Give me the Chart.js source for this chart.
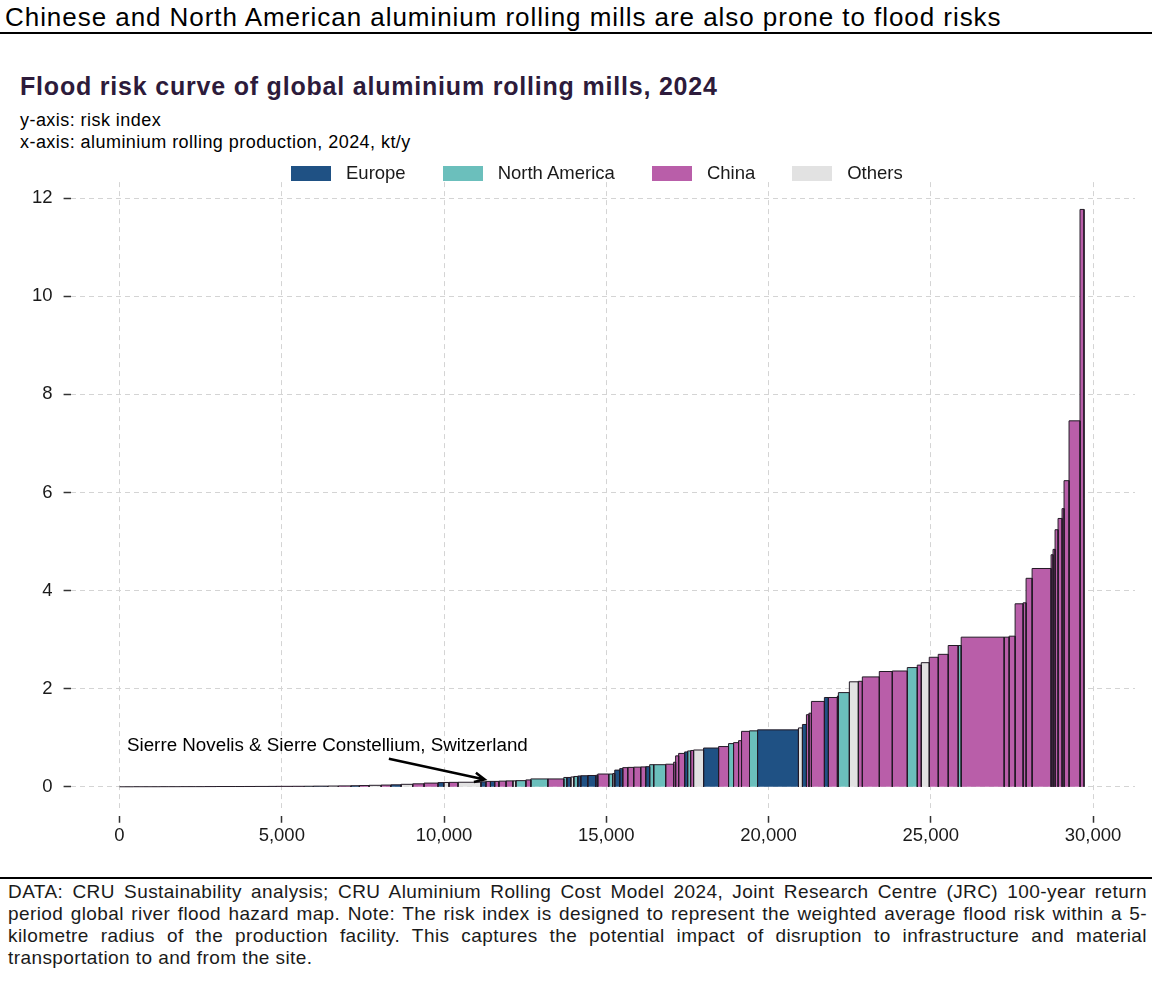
<!DOCTYPE html>
<html>
<head>
<meta charset="utf-8">
<script src="https://cdn.jsdelivr.net/npm/chart.js@4.4.1/dist/chart.umd.min.js"></script>
<style>
  body { margin: 0; width: 1152px; height: 981px; background: #fff; font-family: 'Liberation Sans', Arial, sans-serif; color: #000; position: relative; overflow: hidden; }
  .headline { position: absolute; top: 2px; left: 5px; font-size: 26px; letter-spacing: 0.95px; white-space: nowrap; }
  .rule { position: absolute; left: 0; width: 1152px; height: 2px; background: #000; }
  .title { position: absolute; top: 72px; left: 20px; font-size: 25px; letter-spacing: 0.8px; font-weight: bold; color: #2d1b3b; white-space: nowrap; }
  .sub { position: absolute; left: 20px; font-size: 18px; letter-spacing: 0.45px; white-space: nowrap; }
  #legend { position: absolute; top: 162px; left: 291px; display: flex; align-items: center; font-size: 18.5px; color: #1a1a1a; white-space: nowrap; }
  #legend .item { display: flex; align-items: center; margin-right: 37px; }
  #legend .box { width: 40px; height: 15px; margin-right: 15px; }
  #wrap { position: absolute; top: 160px; left: 0; width: 1152px; height: 710px; }
  .foot { position: absolute; top: 881px; left: 8px; width: 1139px; font-size: 19px; letter-spacing: 0.42px; line-height: 22px; text-align: justify; color: #1a1a1a; }
</style>
</head>
<body>
<div class="headline">Chinese and North American aluminium rolling mills are also prone to flood risks</div>
<div class="rule" style="top:32px"></div>
<div class="title">Flood risk curve of global aluminium rolling mills, 2024</div>
<div class="sub" style="top:110px">y-axis: risk index</div>
<div class="sub" style="top:132px">x-axis: aluminium rolling production, 2024, kt/y</div>
<div id="wrap"><canvas id="floodChart"></canvas></div>
<div id="legend"></div>
<div class="rule" style="top:877px"></div>
<div class="foot">DATA: CRU Sustainability analysis; CRU Aluminium Rolling Cost Model 2024, Joint Research Centre (JRC) 100-year return period global river flood hazard map. Note: The risk index is designed to represent the weighted average flood risk within a 5-kilometre radius of the production facility. This captures the potential impact of disruption to infrastructure and material transportation to and from the site.</div>
<script>
// mills sorted by risk: production (kt/y), risk index, region
const regions = ['Europe', 'North America', 'China', 'Others'];
const regionCodes = ['E', 'N', 'C', 'O'];
const regionColors = ['#1f5184', '#6bbfbc', '#b95ea9', '#e2e2e2'];

const millWidths = [
    420, 310, 520, 250, 380, 460, 290, 350, 600, 270, 330, 410, 240, 500, 360, 280, 450, 320, 390, 260, 300, 370,
    300, 315, 360, 348, 430, 180, 159, 277, 708, 153, 140, 130, 130, 220, 211, 92, 308, 154, 523, 492,
    93, 123, 92, 123, 92, 216, 246, 61, 339, 123, 62, 153, 93, 154, 184, 216, 153, 123, 124, 369,
    246, 61, 93, 184, 93, 92, 92, 308, 462, 307, 154, 154, 92, 246, 247, 1261,
    123, 123, 77, 77, 400, 123, 277, 31, 338, 277, 123, 523, 400, 462, 308, 123, 246, 277, 307, 308, 92,
    1324, 153, 185, 246, 92, 185, 585, 61, 62, 92, 123, 62, 154, 338, 123
];
const millRisks = [
    0, 0.001, 0.001, 0.002, 0.002, 0.003, 0.003, 0.004, 0.005, 0.005, 0.006, 0.007, 0.008, 0.009, 0.010, 0.011, 0.013, 0.015, 0.018, 0.021, 0.025, 0.030,
    0.035, 0.04, 0.05, 0.06, 0.075, 0.085, 0.088, 0.09, 0.092, 0.10, 0.11, 0.11, 0.11, 0.115, 0.12, 0.12, 0.125, 0.14, 0.16, 0.16,
    0.19, 0.19, 0.20, 0.21, 0.22, 0.225, 0.23, 0.235, 0.26, 0.26, 0.27, 0.34, 0.37, 0.39, 0.395, 0.40, 0.405, 0.41, 0.45, 0.45,
    0.46, 0.50, 0.63, 0.68, 0.71, 0.73, 0.74, 0.75, 0.79, 0.82, 0.88, 0.90, 0.94, 1.13, 1.14, 1.16,
    1.20, 1.27, 1.47, 1.50, 1.74, 1.82, 1.82, 1.85, 1.92, 2.14, 2.15, 2.24, 2.35, 2.36, 2.43, 2.48, 2.53, 2.64, 2.70, 2.88, 2.88,
    3.05, 3.05, 3.07, 3.73, 3.75, 4.25, 4.45, 4.73, 4.84, 5.24, 5.47, 5.67, 6.24, 7.46, 11.77
];
const millRegions = [
    'O', 'E', 'C', 'N', 'E', 'C', 'O', 'C', 'E', 'N', 'C', 'O', 'E', 'C', 'C', 'N', 'E', 'O', 'C', 'E', 'C', 'O',
    'C', 'E', 'O', 'C', 'C', 'E', 'O', 'C', 'O', 'E', 'C', 'E', 'C', 'C', 'C', 'O', 'N', 'C', 'N', 'C',
    'N', 'E', 'O', 'N', 'E', 'E', 'E', 'E', 'C', 'N', 'O', 'E', 'E', 'C', 'C', 'C', 'C', 'E', 'N', 'N',
    'C', 'C', 'C', 'C', 'E', 'N', 'C', 'O', 'E', 'C', 'N', 'C', 'C', 'C', 'N', 'E',
    'O', 'E', 'C', 'C', 'C', 'E', 'C', 'E', 'N', 'O', 'C', 'C', 'C', 'C', 'N', 'C', 'O', 'C', 'C', 'C', 'N',
    'C', 'C', 'C', 'C', 'C', 'C', 'C', 'C', 'C', 'C', 'C', 'C', 'C', 'C', 'C'
];

const xTicks = [0, 5000, 10000, 15000, 20000, 25000, 30000];
const yTicks = [0, 2, 4, 6, 8, 10, 12];

const note = {
    text: 'Sierre Novelis & Sierre Constellium, Switzerland',
    textX: 230, textY: 0.84,
    fromX: 8300, fromY: 0.57,
    toX: 11250, toY: 0.15
};

// legend
const legendEl = document.getElementById('legend');
regions.forEach((r, i) => {
    const item = document.createElement('div');
    item.className = 'item';
    item.innerHTML = '<span class="box" style="background:' + regionColors[i] + '"></span><span>' + r + '</span>';
    legendEl.appendChild(item);
});

// one filled step outline per mill, laid end to end along x
let start = 0;
const datasets = millWidths.map((w, i) => {
    const end = start + w;
    const h = millRisks[i];
    const color = regionColors[regionCodes.indexOf(millRegions[i])];
    const ds = {
        type: 'line',
        data: [{x: start, y: 0}, {x: start, y: h}, {x: end, y: h}, {x: end, y: 0}],
        backgroundColor: color,
        borderColor: '#231a26',
        borderWidth: 1,
        fill: 'origin',
        pointRadius: 0,
        tension: 0
    };
    start = end;
    return ds;
});

const notePlugin = {
    id: 'notePlugin',
    afterDatasetsDraw(chart) {
        const {ctx, scales: {x, y}} = chart;
        ctx.save();
        ctx.font = '18.8px "Liberation Sans", Arial, sans-serif';
        ctx.fillStyle = '#000';
        ctx.textBaseline = 'middle';
        ctx.fillText(note.text, x.getPixelForValue(note.textX), y.getPixelForValue(note.textY));
        const x0 = x.getPixelForValue(note.fromX), y0 = y.getPixelForValue(note.fromY);
        const x1 = x.getPixelForValue(note.toX), y1 = y.getPixelForValue(note.toY);
        ctx.strokeStyle = '#000';
        ctx.lineWidth = 2.5;
        ctx.beginPath();
        ctx.moveTo(x0, y0);
        ctx.lineTo(x1, y1);
        const a = Math.atan2(y1 - y0, x1 - x0);
        ctx.moveTo(x1 - 11 * Math.cos(a - 0.45), y1 - 11 * Math.sin(a - 0.45));
        ctx.lineTo(x1, y1);
        ctx.lineTo(x1 - 11 * Math.cos(a + 0.45), y1 - 11 * Math.sin(a + 0.45));
        ctx.stroke();
        ctx.restore();
    }
};

const tickFont = { size: 18.5, family: '"Liberation Sans", Arial, sans-serif' };

const ctx = document.getElementById('floodChart').getContext('2d');
const floodChart = new Chart(ctx, {
    type: 'line',
    data: { datasets: datasets },
    options: {
        responsive: true,
        maintainAspectRatio: false,
        animation: false,
        layout: { padding: { left: 21, right: 17, top: 22, bottom: 21 } },
        scales: {
            x: {
                type: 'linear',
                min: -1508,
                max: 31292,
                afterBuildTicks: axis => { axis.ticks = xTicks.map(v => ({value: v})); },
                grid: {
                    color: '#d4d4d4',
                    tickColor: '#333',
                    tickLength: 15,
                    tickWidth: 1.5,
                    tickBorderDash: [0, 8, 7, 50]
                },
                border: { display: false, dash: [5, 4] },
                ticks: {
                    color: '#1a1a1a',
                    padding: 2,
                    font: tickFont,
                    callback: v => v.toLocaleString('en-US')
                }
            },
            y: {
                min: -0.4286,
                max: 12.327,
                afterBuildTicks: axis => { axis.ticks = yTicks.map(v => ({value: v})); },
                grid: {
                    color: '#d4d4d4',
                    tickColor: '#333',
                    tickLength: 7,
                    tickWidth: 1.5
                },
                border: { display: false, dash: [5, 4] },
                ticks: {
                    color: '#1a1a1a',
                    padding: 11,
                    font: tickFont
                }
            }
        },
        plugins: {
            legend: { display: false },
            tooltip: { enabled: false }
        }
    },
    plugins: [notePlugin]
});
</script>
</body>
</html>
